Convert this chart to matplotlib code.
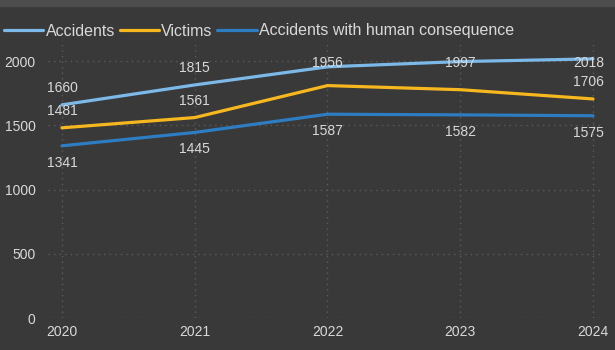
import matplotlib.pyplot as plt
from matplotlib.patches import Rectangle

# data
years = [2020, 2021, 2022, 2023, 2024]
accidents = [1660, 1815, 1956, 1997, 2018]
victims = [1481, 1561, 1810, 1778, 1706]
human = [1341, 1445, 1587, 1582, 1575]

# which labels are shown (victims 2022/2023 are hidden in the original)
victims_show = [True, True, False, False, True]

bg = '#393939'
txt = '#d9d9d9'
grid_col = '#5c5c5c'

plt.rcParams['font.family'] = ['Liberation Sans', 'DejaVu Sans']

fig = plt.figure(figsize=(6.15, 3.5), dpi=100, facecolor=bg)
fig.patches.append(Rectangle((0, 0.982), 1, 0.018, transform=fig.transFigure,
                             color='#4d4d4d', zorder=0))
ax = fig.add_axes([48 / 615, 1 - 318 / 350, (603 - 48) / 615, (318 - 40) / 350])
ax.set_facecolor(bg)

ax.plot(years, accidents, color='#7cb9e8', lw=2.3, label='Accidents', solid_capstyle='round')
ax.plot(years, victims, color='#f7b81f', lw=2.3, label='Victims', solid_capstyle='round')
ax.plot(years, human, color='#2e7cc2', lw=2.3, label='Accidents with human consequence',
        solid_capstyle='round')

def xoff(i):
    return -0.035 if i == len(years) - 1 else 0

lab_gap = 132   # label distance from the point, in data units
top_cap = 1985  # labels near the top get squeezed down to this

for i, (x, v) in enumerate(zip(years, accidents)):
    ax.text(x + xoff(i), min(v + lab_gap, top_cap), str(v), ha='center', va='center',
            color=txt, fontsize=10)
for i, (x, v) in enumerate(zip(years, victims)):
    if victims_show[i]:
        ax.text(x + xoff(i), v + lab_gap, str(v), ha='center', va='center',
                color=txt, fontsize=10)
for i, (x, v) in enumerate(zip(years, human)):
    ax.text(x + xoff(i), v - lab_gap, str(v), ha='center', va='center',
            color=txt, fontsize=10)

ax.set_xlim(2019.895, 2024.075)
ax.set_ylim(0, 2165)
ax.set_xticks(years)
ax.set_yticks([0, 500, 1000, 1500, 2000])
ax.tick_params(axis='both', length=0, colors=txt, labelsize=10)
ax.tick_params(axis='y', pad=9)
ax.tick_params(axis='x', pad=5)
ax.grid(True, color=grid_col, linestyle=(0, (1, 3)), linewidth=1)
for s in ax.spines.values():
    s.set_visible(False)

leg = fig.legend(loc='center left', bbox_to_anchor=(4 / 615, 1 - 31 / 350), ncol=3,
                 frameon=False, fontsize=11.5, handlelength=2.45, handletextpad=0.15,
                 columnspacing=0.3, borderaxespad=0, borderpad=0)
for t in leg.get_texts():
    t.set_color(txt)

fig.savefig('out.png', dpi=100, facecolor=bg)
